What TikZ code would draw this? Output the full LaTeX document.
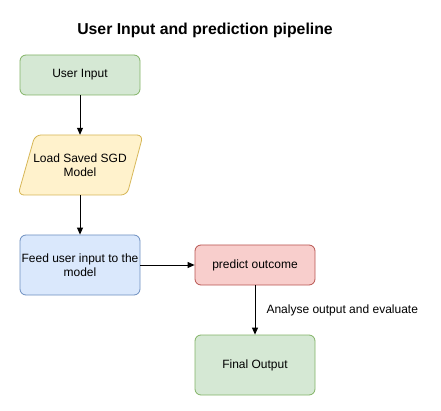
\documentclass[tikz,border=0pt]{standalone}
\usepackage{fontspec}
\setmainfont{Liberation Sans}
\usetikzlibrary{arrows.meta}
\definecolor{gfill}{HTML}{D5E8D4}\definecolor{gdraw}{HTML}{82B366}
\definecolor{yfill}{HTML}{FFF2CC}\definecolor{ydraw}{HTML}{D6B656}
\definecolor{bfill}{HTML}{DAE8FC}\definecolor{bdraw}{HTML}{6C8EBF}
\definecolor{rfill}{HTML}{F8CECC}\definecolor{rdraw}{HTML}{B85450}
\tikzset{
  box/.style={draw, rounded corners=6pt, minimum width=120pt, align=center, font=\fontsize{12}{14}\selectfont, inner sep=1pt, line width=0.8pt},
  arr/.style={-{Triangle[length=7pt,width=6pt]}, line width=0.9pt},
  lbl/.style={font=\fontsize{12}{14}\selectfont}
}
\begin{document}
\begin{tikzpicture}[x=1pt,y=-1pt]
\useasboundingbox (0,0) rectangle (441,411);
\node[font=\bfseries\fontsize{15.8}{18}\selectfont] (title) at (205,30) {User Input and prediction pipeline};
\node[box, fill=gfill, draw=gdraw, minimum height=40pt] (ui) at (80,75) {User Input};
% parallelogram
\node[minimum width=109pt, minimum height=60pt, inner sep=0pt, align=center, font=\fontsize{12}{14}\selectfont] (load) at (80,165) {};
\draw[fill=yfill, draw=ydraw, line width=0.8pt, rounded corners=6pt]
  (35,135) -- (143,135) -- (127,195) -- (18,195) -- cycle;
\node[align=center, font=\fontsize{12}{14}\selectfont] at (load.center) {Load Saved SGD\\Model};
\node[box, fill=bfill, draw=bdraw, minimum height=60pt] (feed) at (80,265) {Feed user input to the\\model};
\node[box, fill=rfill, draw=rdraw, minimum height=40pt] (pred) at (255,265) {predict outcome};
\node[box, fill=gfill, draw=gdraw, minimum height=60pt] (fin) at (255,365) {Final Output};
\draw[arr] (ui.south) -- (load.north);
\draw[arr] (load.south) -- (feed.north);
\draw[arr] (feed.east) -- (pred.west);
\draw[arr] (pred.south) -- (fin.north);
\node[lbl, anchor=west] (an) at (263,310) {Analyse output and evaluate};
\end{tikzpicture}
\end{document}
